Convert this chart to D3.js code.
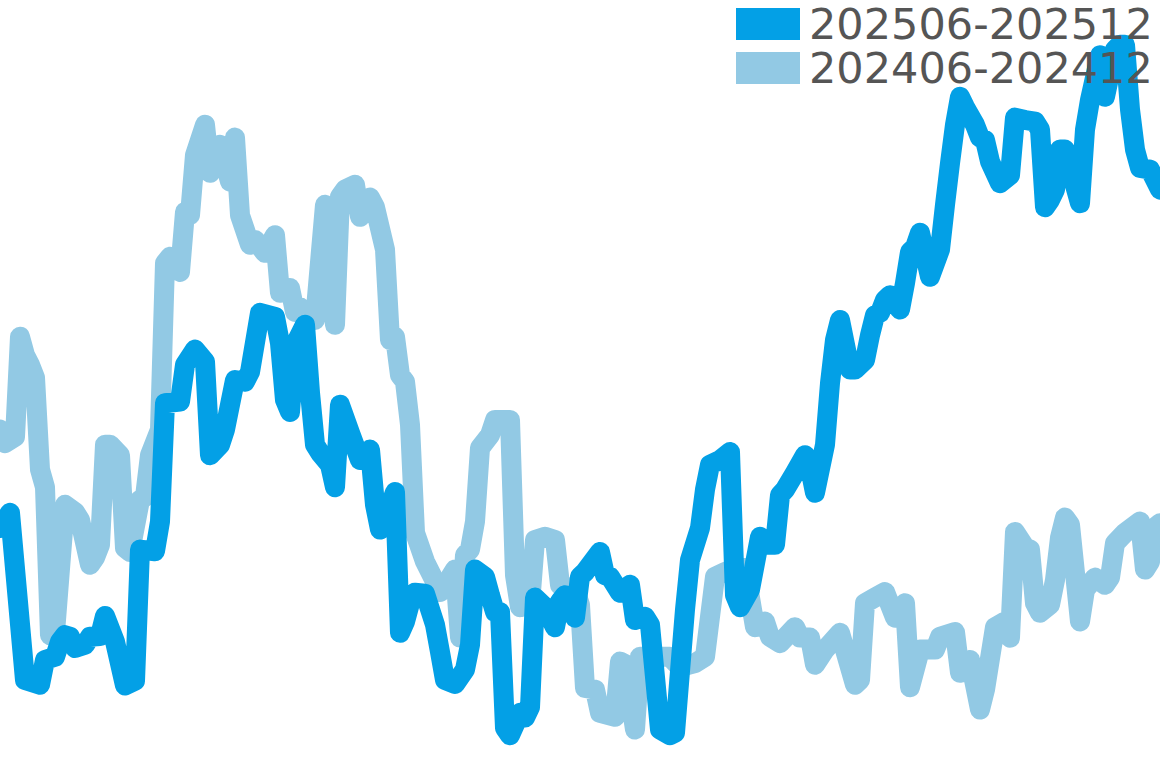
<!DOCTYPE html>
<html lang="en">
<head>
    <meta charset="UTF-8">
    <title>202506-202512 vs 202406-202412</title>
    <script src="https://d3js.org/d3.v7.min.js"></script>
    <style>
        html, body {
            margin: 0;
            padding: 0;
            width: 100%;
            height: 100%;
            overflow: hidden;
            background: #ffffff;
        }

        svg {
            display: block;
        }

        .series {
            fill: none;
            stroke-linejoin: round;
            stroke-linecap: round;
        }

        .legend text {
            font-family: "DejaVu Sans", sans-serif;
            font-size: 43px;
            fill: #555555;
        }
    </style>
</head>
<body>

    <svg></svg>

    <script>
        // series labels (legend order) and colours
        const seriesNames = ["202506-202512", "202406-202412"];
        const seriesColors = ["#03a0e6", "#92c9e4"];

        // 202506-202512 : day index and value
        const curDays = [0, 2, 5, 8, 9, 11, 12, 13, 14, 15, 17, 18, 20, 21, 23, 25, 27, 28, 31, 32,
            33, 36, 37, 39, 41, 42, 44, 45, 47, 49, 50, 52, 55, 56, 57, 58, 59, 61, 62, 63,
            64, 66, 67, 68, 70, 72, 74, 75, 76, 77, 79, 80, 81, 82, 83, 85, 87, 88, 89, 91,
            93, 94, 95, 97, 98, 99, 100, 101, 102, 104, 105, 106, 107, 109, 111, 112, 113, 115, 116, 117,
            120, 121, 122, 124, 126, 127, 129, 130, 132, 134, 135, 137, 138, 140, 141, 142, 144, 146, 147, 148,
            150, 152, 154, 155, 156, 157, 159, 161, 162, 163, 165, 166, 167, 168, 170, 171, 173, 174, 175, 176,
            177, 178, 180, 181, 182, 183, 184, 186, 188, 189, 190, 191, 192, 193, 195, 196, 197, 198, 200, 202,
            203, 205, 207, 208, 209, 210, 211, 212, 213, 216, 217, 218, 220, 221, 223, 224, 225, 226, 227, 228,
            230, 232];
        const curValues = [34.0, 35.9, 15.0, 14.4, 17.5, 17.9, 19.8, 20.6, 20.4, 19.0, 19.4, 20.4, 20.5, 23.0, 19.8, 14.3, 14.9, 31.3, 31.1, 34.8,
            49.6, 49.8, 54.4, 56.3, 54.8, 43.1, 44.4, 46.3, 52.5, 52.3, 53.5, 60.9, 60.4, 57.1, 50.0, 48.5, 56.9, 59.4, 50.9, 44.4,
            43.4, 41.9, 39.1, 49.4, 45.9, 42.5, 43.8, 36.9, 33.8, 35.0, 38.5, 20.9, 22.3, 24.6, 25.9, 25.8, 21.9, 18.5, 15.0, 14.5,
            16.3, 19.4, 28.8, 27.9, 25.6, 23.5, 23.5, 9.0, 8.1, 10.9, 10.3, 11.6, 25.3, 24.1, 21.6, 24.8, 25.6, 22.8, 27.9, 28.5,
            31.0, 28.1, 27.9, 25.9, 26.9, 22.5, 22.9, 21.9, 8.8, 8.1, 8.4, 23.8, 30.0, 34.0, 38.8, 41.9, 42.5, 43.5, 25.6, 24.1,
            26.3, 32.9, 31.9, 31.9, 38.1, 38.8, 40.9, 43.1, 41.5, 38.4, 44.4, 52.1, 57.5, 60.0, 53.8, 53.8, 55.0, 58.1, 60.6, 60.9,
            62.5, 63.1, 61.3, 64.6, 68.5, 69.1, 70.9, 65.4, 68.8, 74.4, 79.6, 84.4, 87.9, 86.6, 84.4, 82.8, 82.5, 79.8, 77.1, 78.1,
            85.3, 85.0, 84.8, 83.8, 74.1, 75.0, 76.3, 81.3, 81.3, 74.6, 83.8, 87.5, 93.1, 87.9, 93.8, 94.4, 94.4, 86.3, 81.3, 79.0,
            78.8, 76.3];

        // 202406-202412 : day index and value
        const prevDays = [0, 1, 3, 4, 5, 6, 7, 8, 9, 10, 11, 13, 15, 16, 18, 19, 20, 21, 22, 24,
            25, 26, 28, 29, 30, 32, 33, 34, 36, 37, 38, 39, 41, 42, 44, 46, 47, 48, 50, 51,
            53, 55, 56, 58, 59, 60, 62, 63, 65, 67, 68, 69, 71, 72, 74, 75, 77, 78, 79, 80,
            81, 82, 83, 85, 87, 88, 90, 91, 92, 93, 94, 95, 96, 98, 99, 102, 103, 104, 106, 107,
            109, 111, 112, 115, 116, 117, 119, 120, 123, 124, 125, 127, 128, 134, 136, 139, 141, 143, 145, 147,
            149, 151, 153, 154, 156, 159, 160, 162, 163, 165, 168, 171, 172, 173, 175, 177, 179, 181, 182, 184,
            187, 188, 191, 192, 194, 196, 197, 199, 201, 202, 203, 205, 206, 207, 208, 210, 211, 212, 213, 214,
            216, 217, 219, 221, 222, 223, 225, 228, 229, 230, 231, 232];
        const prevValues = [46.3, 44.6, 45.4, 57.9, 55.6, 54.4, 52.8, 41.3, 39.1, 20.6, 20.9, 36.9, 36.0, 35.0, 29.4, 30.3, 31.9, 44.4, 44.4, 43.1,
            31.5, 31.0, 37.5, 37.9, 43.1, 46.3, 67.1, 67.9, 66.0, 73.5, 73.1, 80.6, 84.4, 78.4, 81.9, 77.3, 82.8, 73.1, 69.4, 70.0,
            68.4, 70.6, 63.4, 64.0, 61.0, 61.6, 60.0, 60.0, 74.4, 59.4, 75.4, 76.3, 76.9, 72.9, 75.3, 74.1, 68.8, 57.5, 57.9, 53.1,
            52.3, 46.9, 33.4, 29.8, 27.3, 26.0, 27.8, 28.8, 20.3, 30.6, 31.3, 34.8, 44.0, 45.6, 47.5, 47.5, 28.1, 24.1, 24.4, 32.5,
            32.9, 32.5, 26.9, 26.3, 24.4, 14.0, 13.8, 10.9, 10.4, 17.3, 17.0, 8.8, 17.9, 17.9, 16.6, 17.1, 17.9, 27.9, 28.5, 29.0,
            29.0, 21.6, 22.3, 20.4, 19.6, 21.6, 20.3, 20.3, 16.9, 18.8, 20.9, 14.4, 15.0, 24.6, 25.3, 26.0, 22.8, 24.6, 14.1, 18.8,
            18.8, 20.4, 21.0, 15.9, 17.5, 11.3, 13.8, 21.6, 22.3, 20.3, 33.5, 31.6, 31.3, 24.6, 23.4, 24.4, 27.5, 32.8, 35.3, 34.4,
            22.3, 26.3, 27.8, 26.9, 27.8, 32.1, 33.4, 34.8, 28.8, 29.8, 34.1, 34.6];

        const width = 1160,
              height = 768;

        const svg = d3.select("svg")
            .attr("width", width)
            .attr("height", height);

        const x = d3.scaleLinear().domain([0, 232]).range([0, width]);
        const y = d3.scaleLinear().domain([0, 100]).range([800, 0]);

        const line = d3.line()
            .x(d => x(d[0]))
            .y(d => y(d[1]));

        const series = [
            { name: seriesNames[0], color: seriesColors[0], points: d3.zip(curDays, curValues) },
            { name: seriesNames[1], color: seriesColors[1], points: d3.zip(prevDays, prevValues) }
        ];

        // previous period underneath, current on top
        svg.append("g")
            .selectAll("path")
            .data(series.slice().reverse())
            .enter().append("path")
            .attr("class", "series")
            .attr("stroke", d => d.color)
            .attr("stroke-width", 20)
            .attr("d", d => line(d.points));

        // legend, top right
        const legend = svg.append("g")
            .attr("class", "legend")
            .selectAll("g")
            .data(series)
            .enter().append("g")
            .attr("transform", (d, i) => `translate(736,${8 + i * 44})`);

        legend.append("rect")
            .attr("width", 64)
            .attr("height", 32)
            .attr("fill", d => d.color);

        legend.append("text")
            .attr("x", 73)
            .attr("y", 31)
            .text(d => d.name);
    </script>
</body>
</html>
